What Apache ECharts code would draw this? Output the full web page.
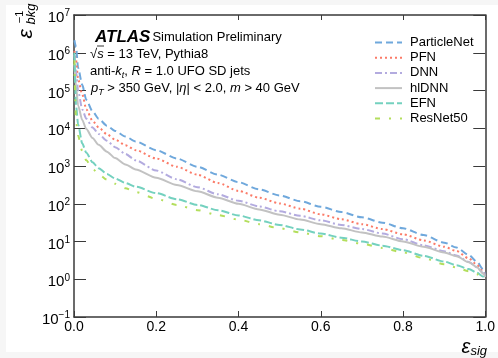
<!DOCTYPE html>
<html><head><meta charset="utf-8">
<script src="https://cdn.jsdelivr.net/npm/echarts@6/dist/echarts.min.js"></script>
<style>
html,body{margin:0;padding:0;background:#f6f6f6;}
#bg{position:absolute;left:6px;top:5px;width:492px;height:347px;background:#fff;}
#c{position:absolute;left:0;top:0;width:498px;height:358px;}
</style>
</head><body><div id="bg"></div><div id="c"></div>
<script>
// signal efficiency grid (x)
const effSig = [0.001, 0.005, 0.01, 0.02, 0.03, 0.045, 0.06, 0.08, 0.1, 0.125, 0.15, 0.2, 0.25, 0.3, 0.35, 0.4, 0.45, 0.5, 0.55, 0.6, 0.65, 0.7, 0.75, 0.8, 0.85, 0.9, 0.93, 0.96, 0.98, 0.995, 1.0];
// background rejection (1/eps_bkg)
const particleNet = [2140000, 1410000, 398000, 141000, 56200, 28200, 17800, 11700, 8510, 6030, 4470, 2630, 1580, 955, 589, 372, 240, 166, 117, 83.2, 60.3, 43.7, 31.6, 22.4, 14.8, 9.33, 6.92, 4.37, 2.88, 1.82, 1.26];
const pfn = [1120000, 631000, 200000, 79400, 31600, 15800, 10500, 6920, 5010, 3550, 2630, 1580, 955, 589, 355, 219, 145, 102, 74.1, 52.5, 38.9, 28.8, 21.4, 15.5, 10.7, 7.24, 5.62, 3.55, 2.40, 1.58, 1.20];
const dnn = [891000, 316000, 100000, 31600, 17800, 10500, 7080, 4680, 3160, 2090, 1410, 759, 447, 275, 178, 120, 85.1, 63.1, 47.9, 36.3, 27.5, 21.4, 16.2, 11.5, 7.94, 5.50, 4.27, 2.88, 2.09, 1.45, 1.17];
const hldnn = [501000, 126000, 39800, 16600, 9550, 5500, 3630, 2400, 1620, 1100, 813, 490, 316, 214, 145, 100, 70.8, 51.3, 38.0, 28.8, 22.4, 17.4, 13.5, 10.0, 7.24, 5.13, 4.07, 2.82, 2.09, 1.41, 1.15];
const efn = [1000000, 39800, 12600, 3980, 2240, 1260, 871, 617, 468, 355, 282, 191, 132, 93.3, 67.6, 49.0, 36.3, 27.5, 20.9, 16.2, 12.6, 10.0, 7.76, 5.89, 4.17, 2.95, 2.34, 1.86, 1.48, 1.17, 1.05];
const resnet50 = [631000, 15800, 6310, 2510, 1410, 851, 603, 437, 339, 257, 204, 135, 93.3, 67.6, 50.1, 38.0, 28.8, 22.4, 17.4, 13.8, 11.0, 8.71, 6.76, 5.13, 3.63, 2.51, 2.04, 1.62, 1.35, 1.15, 1.05];

const seriesNames = ['ParticleNet', 'PFN', 'DNN', 'hlDNN', 'EFN', 'ResNet50'];
const seriesValues = [particleNet, pfn, dnn, hldnn, efn, resnet50];
const xTickValues = [0, 0.2, 0.4, 0.6, 0.8, 1.0];

const colors = ['#6fa8dc', '#fb7b68', '#b3abdf', '#c2c2c2', '#74d1bf', '#b3de5c'];
const dashes = [[7, 4], [2, 3], [7, 3, 2, 3], 'solid', [8, 3], [5, 9, 2, 9]];
const F = '"Liberation Sans", Arial, Helvetica, sans-serif';

const chart = echarts.init(document.getElementById('c'), null, {renderer: 'canvas'});

const series = seriesNames.map((n, k) => ({
  type: 'line', name: n,
  data: effSig.map((x, i) => [x, seriesValues[k][i]]),
  symbol: 'none', showSymbol: false,
  smooth: 0.25, smoothMonotone: 'x',
  lineStyle: {color: colors[k], width: 2, type: dashes[k]},
  itemStyle: {color: colors[k]},
  xAxisIndex: 0, yAxisIndex: 0
}));

const xCommon = {type: 'value', min: 0, max: 1, interval: 0.2, splitLine: {show: false},
  axisLine: {show: true, onZero: false, lineStyle: {color: '#3a3a3a', width: 1.5}}};
const yCommon = {type: 'log', logBase: 10, min: 0.1, max: 1e7, splitNumber: 8, splitLine: {show: false},
  minorTick: {show: false},
  axisLine: {show: true, onZero: false, lineStyle: {color: '#3a3a3a', width: 1.5}}};

const option = {
  animation: false,
  grid: {left: 74, right: 11, top: 15, bottom: 41, containLabel: false},
  xAxis: [
    Object.assign({}, xCommon, {position: 'bottom',
      axisTick: {show: true, inside: true, length: 6, lineStyle: {color: '#3a3a3a', width: 1}},
      axisLabel: {show: true, margin: 3, fontSize: 14, fontFamily: F, color: '#000',
        customValues: xTickValues, formatter: v => v.toFixed(1)}}),
    Object.assign({}, xCommon, {position: 'top',
      axisTick: {show: true, inside: true, length: 5, lineStyle: {color: '#3a3a3a', width: 1}},
      axisLabel: {show: false}})
  ],
  yAxis: [
    Object.assign({}, yCommon, {position: 'left',
      axisTick: {show: true, inside: true, length: 12, lineStyle: {color: '#3a3a3a', width: 1}},
      axisLabel: {show: true, margin: 4, color: '#000', padding: [6, 0, 0, 0],
        formatter: function (v) { const e = Math.round(Math.log10(v)); return '{b|10}{s|' + (e < 0 ? '\u2212' + (-e) : e) + '}'; },
        rich: {b: {fontSize: 15, fontFamily: F, color: '#000'}, s: {fontSize: 10, fontFamily: F, color: '#000', padding: [0, 0, 9, 0]}}}}),
    Object.assign({}, yCommon, {position: 'right',
      axisTick: {show: true, inside: true, length: 12, lineStyle: {color: '#3a3a3a', width: 1}},
      axisLabel: {show: false}})
  ],
  legend: {orient: 'vertical', left: 369, top: 31, itemWidth: 27, itemHeight: 14, itemGap: 2.2,
    itemStyle: {opacity: 0},
    textStyle: {fontSize: 13, fontFamily: F, color: '#000', padding: [0, 0, 0, 3]},
    data: seriesNames},
  graphic: [
    {type: 'text', x: 95, y: 37, style: {text: '{a|ATLAS}{b|Simulation Preliminary}',
      rich: {a: {fontSize: 17, fontWeight: 'bold', fontStyle: 'italic', fontFamily: F, fill: '#000'},
             b: {fontSize: 13, fontFamily: F, fill: '#000', padding: [0, 0, 0, 2]}},
      verticalAlign: 'middle', fill: '#000'}},
    {type: 'text', x: 90, y: 54, style: {text: '{n|\u221A}{i|s}{n| = 13 TeV, Pythia8}',
      rich: {n: {fontSize: 13, fontFamily: F, fill: '#000'}, i: {fontSize: 13, fontFamily: F, fontStyle: 'italic', fill: '#000'}},
      verticalAlign: 'middle', fill: '#000'}},
    {type: 'line', shape: {x1: 97, y1: 46, x2: 104, y2: 46}, style: {stroke: '#000', lineWidth: 0.8}},
    {type: 'text', x: 90, y: 71, style: {text: '{n|anti-}{i|k}{sub|t}{n|, }{i|R}{n| = 1.0 UFO SD jets}',
      rich: {n: {fontSize: 13, fontFamily: F, fill: '#000'}, i: {fontSize: 13, fontFamily: F, fontStyle: 'italic', fill: '#000'},
             sub: {fontSize: 9, fontFamily: F, fontStyle: 'italic', fill: '#000', padding: [8, 0, 0, 0]}},
      verticalAlign: 'middle', fill: '#000'}},
    {type: 'text', x: 91, y: 88, style: {text: '{i|p}{sub|T}{n| > 350 GeV, |}{i|\u03B7}{n|| < 2.0, }{i|m}{n| > 40 GeV}',
      rich: {n: {fontSize: 13, fontFamily: F, fill: '#000'}, i: {fontSize: 13, fontFamily: F, fontStyle: 'italic', fill: '#000'},
             sub: {fontSize: 9, fontFamily: F, fontStyle: 'italic', fill: '#000', padding: [8, 0, 0, 0]}},
      verticalAlign: 'middle', fill: '#000'}},
    // x axis title
    {type: 'text', x: 487, y: 347, style: {text: '{e|\u03B5}{s|sig}',
      rich: {e: {fontSize: 20, fontFamily: F, fontStyle: 'italic', fill: '#000'},
             s: {fontSize: 13, fontFamily: F, fontStyle: 'italic', fill: '#000', padding: [9, 0, 0, 0]}},
      align: 'right', verticalAlign: 'middle', fill: '#000'}},
    // y axis title (rotated)
    {type: 'text', x: 26, y: 34, rotation: Math.PI / 2, style: {text: '\u03B5', fontSize: 21, fontFamily: F, fontStyle: 'italic', fill: '#000', align: 'center', verticalAlign: 'middle'}},
    {type: 'text', x: 31, y: 14, rotation: Math.PI / 2, style: {text: 'bkg', fontSize: 13, fontFamily: F, fontStyle: 'italic', fill: '#000', align: 'center', verticalAlign: 'middle'}},
    {type: 'text', x: 20, y: 17, rotation: Math.PI / 2, style: {text: '\u22121', fontSize: 11, fontFamily: F, fill: '#000', align: 'center', verticalAlign: 'middle'}}
  ],
  series: series
};
chart.setOption(option);
</script>
</body></html>
